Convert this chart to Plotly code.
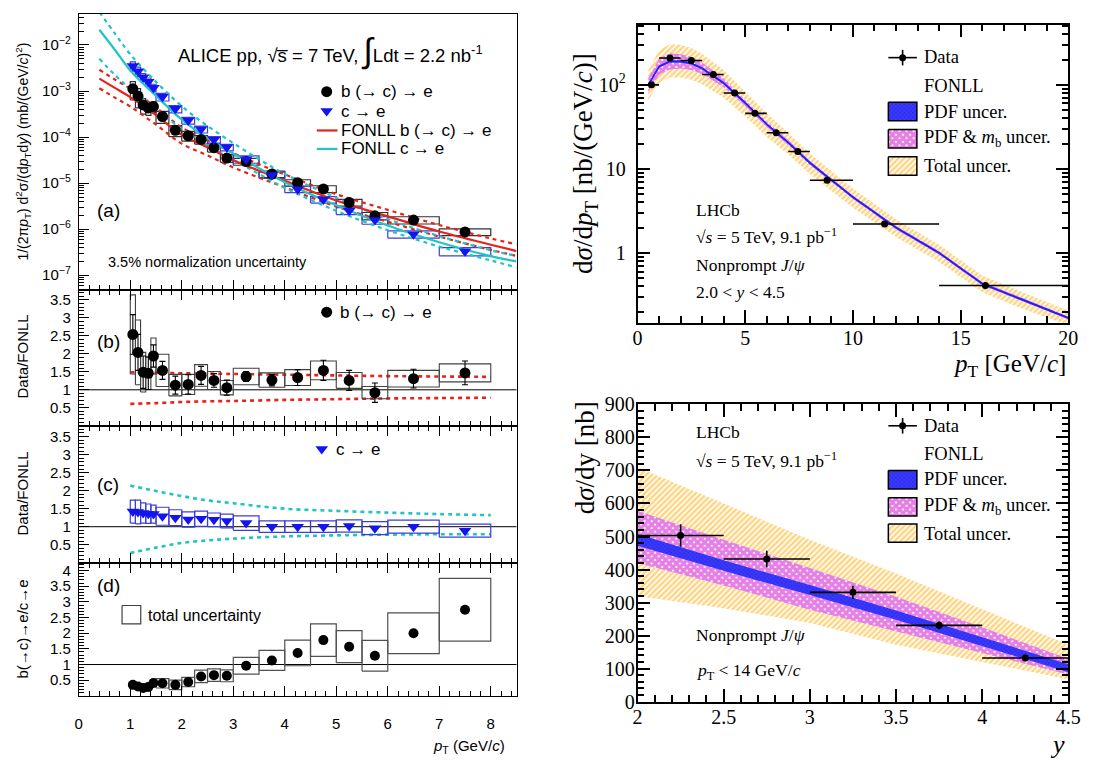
import plotly.graph_objects as go

W, H = 1103, 769
SANS = "Liberation Sans, Arial, sans-serif"
SERIF = "Liberation Serif, Times New Roman, serif"

# ---------------- ALICE pp, sqrt(s) = 7 TeV: heavy-flavour decay electrons ----------------
pt_lo = [1.0, 1.1, 1.2, 1.3, 1.4, 1.5, 1.75, 2.0, 2.25, 2.5, 2.75, 3.0, 3.5, 4.0, 4.5, 5.0, 5.5, 6.0, 7.0]
pt_hi = [1.1, 1.2, 1.3, 1.4, 1.5, 1.75, 2.0, 2.25, 2.5, 2.75, 3.0, 3.5, 4.0, 4.5, 5.0, 5.5, 6.0, 7.0, 8.0]
pt_mid = [1.05, 1.15, 1.25, 1.35, 1.45, 1.625, 1.875, 2.125, 2.375, 2.625, 2.875, 3.25, 3.75, 4.25,
          4.75, 5.25, 5.75, 6.5, 7.5]

# invariant cross sections, mb/(GeV/c)^2, with relative systematic uncertainty
be_xsec = [1.12e-3, 7.8e-4, 5.0e-4, 4.3e-4, 4.6e-4, 2.8e-4, 1.4e-4, 1.07e-4, 8.9e-5, 5.9e-5, 3.5e-5,
           2.95e-5, 1.57e-5, 1.02e-5, 7.5e-6, 3.8e-6, 1.95e-6, 1.58e-6, 8.7e-7]
be_sys_rel = [0.43, 0.45, 0.37, 0.31, 0.26, 0.29, 0.27, 0.24, 0.21, 0.20, 0.19, 0.17, 0.16, 0.16,
              0.17, 0.17, 0.18, 0.18, 0.17]
ce_xsec = [3.5e-3, 2.7e-3, 2.0e-3, 1.6e-3, 1.18e-3, 7.5e-4, 4.1e-4, 2.3e-4, 1.48e-4, 8.8e-5, 6.0e-5,
           3.3e-5, 1.5e-5, 7.4e-6, 4.4e-6, 2.5e-6, 1.58e-6, 7.8e-7, 3.3e-7]
ce_sys_rel = [0.23, 0.23, 0.20, 0.20, 0.19, 0.19, 0.18, 0.17, 0.17, 0.16, 0.16, 0.18, 0.16, 0.16,
              0.16, 0.17, 0.19, 0.18, 0.20]

# FONLL predictions (central, upper, lower)
fonll_pt = [0.4, 0.7, 1.0, 1.5, 2.0, 2.5, 3.0, 3.5, 4.0, 5.0, 6.0, 7.0, 8.0, 8.5]
fonll_b = [1.86e-3, 1.17e-3, 7.4e-4, 3.0e-4, 1.12e-4, 6.0e-5, 3.16e-5, 1.86e-5, 1.12e-5, 4.2e-6,
           1.9e-6, 8.9e-7, 4.6e-7, 3.35e-7]
fonll_b_up = [2.9e-3, 1.78e-3, 1.12e-3, 4.4e-4, 1.62e-4, 8.5e-5, 4.5e-5, 2.57e-5, 1.55e-5, 5.75e-6,
              2.63e-6, 1.23e-6, 6.3e-7, 4.7e-7]
fonll_b_lo = [1.15e-3, 7.2e-4, 4.6e-4, 1.86e-4, 7.2e-5, 4.0e-5, 2.19e-5, 1.32e-5, 8.1e-6, 3.1e-6,
              1.45e-6, 6.9e-7, 3.55e-7, 2.63e-7]
fonll_c = [2.14e-2, 7.9e-3, 2.8e-3, 7.9e-4, 2.4e-4, 9.5e-5, 4.4e-5, 2.1e-5, 1.05e-5, 3.3e-6,
           1.2e-6, 5.2e-7, 2.6e-7, 2.0e-7]
fonll_c_up = [5.2e-2, 1.78e-2, 6.3e-3, 1.58e-3, 4.7e-4, 1.74e-4, 7.4e-5, 3.3e-5, 1.58e-5, 4.8e-6,
              1.66e-6, 7.1e-7, 3.5e-7, 2.63e-7]
fonll_c_lo = [5.0e-3, 2.24e-3, 1.1e-3, 4.0e-4, 1.5e-4, 6.6e-5, 3.2e-5, 1.58e-5, 7.9e-6, 2.5e-6,
              9.5e-7, 4.2e-7, 2.1e-7, 1.48e-7]

# Data/FONLL for b(->c)->e : value, statistical, systematic half-height
be_ratio = [2.54, 2.04, 1.49, 1.46, 1.94, 1.54, 1.13, 1.15, 1.40, 1.26, 1.06, 1.37, 1.27, 1.34,
            1.54, 1.26, 0.92, 1.31, 1.47]
be_ratio_stat = [0.55, 0.50, 0.45, 0.45, 0.31, 0.25, 0.25, 0.27, 0.25, 0.19, 0.21, 0.14, 0.16, 0.22,
                 0.28, 0.28, 0.27, 0.26, 0.33]
be_ratio_sys = [1.10, 0.90, 0.55, 0.45, 0.50, 0.45, 0.30, 0.28, 0.30, 0.25, 0.20, 0.23, 0.20, 0.22,
                0.26, 0.22, 0.17, 0.23, 0.25]

# Data/FONLL for c->e
ce_ratio = [1.42, 1.41, 1.38, 1.36, 1.35, 1.29, 1.25, 1.20, 1.22, 1.19, 1.16, 1.10, 1.00, 1.00,
            1.00, 1.02, 0.96, 1.00, 0.89]
ce_ratio_sys = [0.32, 0.33, 0.28, 0.27, 0.25, 0.25, 0.22, 0.21, 0.21, 0.19, 0.19, 0.20, 0.16, 0.16,
                0.16, 0.17, 0.18, 0.18, 0.18]

# FONLL uncertainty relative to its central value
ratio_band_pt = [1.0, 1.5, 2.0, 2.5, 3.0, 4.0, 5.0, 6.0, 7.0, 8.0]
b_band_hi = [1.49, 1.47, 1.46, 1.45, 1.44, 1.42, 1.40, 1.38, 1.37, 1.36]
b_band_lo = [0.61, 0.63, 0.66, 0.68, 0.69, 0.72, 0.74, 0.76, 0.77, 0.78]
c_band_hi = [2.14, 1.99, 1.85, 1.73, 1.65, 1.50, 1.44, 1.39, 1.35, 1.32]
c_band_lo = [0.27, 0.42, 0.55, 0.62, 0.67, 0.73, 0.76, 0.78, 0.79, 0.79]

# b(->c)->e / c->e with total uncertainty
bc_ratio = [0.35, 0.30, 0.25, 0.28, 0.41, 0.40, 0.35, 0.44, 0.62, 0.66, 0.64, 0.96, 1.13, 1.37,
            1.78, 1.57, 1.28, 2.00, 2.75]
bc_ratio_unc = [0.08, 0.08, 0.07, 0.07, 0.10, 0.15, 0.15, 0.15, 0.20, 0.20, 0.19, 0.27, 0.32, 0.41,
                0.52, 0.51, 0.49, 0.65, 1.00]

# ---------------- LHCb nonprompt J/psi, sqrt(s) = 5 TeV ----------------
jpsi_pt_lo = [0.5, 1, 2, 3, 4, 5, 6, 7, 8, 10, 14]
jpsi_pt_hi = [1, 2, 3, 4, 5, 6, 7, 8, 10, 14, 20]
jpsi_pt = [0.65, 1.51, 2.50, 3.52, 4.51, 5.45, 6.44, 7.44, 8.8, 11.47, 16.15]
jpsi_dsdpt = [100, 209, 195, 133, 80, 45.8, 26.9, 16.1, 7.33, 2.21, 0.41]
jpsi_dsdpt_err = [8, 12, 10, 7, 4, 2.3, 1.4, 0.9, 0.4, 0.14, 0.04]

pred_pt = [0.5, 1, 1.5, 2, 2.5, 3, 4, 5, 6, 7, 8, 10, 12, 14, 16, 18, 20]
pred_pt_c = [100, 165, 190, 190, 180, 157, 105, 61, 34, 20.5, 11.8, 4.6, 2.0, 1.0, 0.43, 0.27, 0.168]
pred_pt_pdf_hi = [103, 170, 196, 196, 185, 162, 108, 63, 35, 21.1, 12.2, 4.74, 2.06, 1.03, 0.443, 0.278, 0.173]
pred_pt_pdf_lo = [97, 160, 184, 184, 175, 152, 102, 59, 33, 19.9, 11.4, 4.46, 1.94, 0.97, 0.417, 0.262, 0.163]
pred_pt_mb_hi = [120, 206, 237, 232, 216, 184, 119, 67, 36.7, 22, 12.5, 4.83, 2.1, 1.05, 0.45, 0.283, 0.175]
pred_pt_mb_lo = [82, 132, 152, 156, 150, 135, 93.5, 55.5, 31.6, 19.1, 11.1, 4.37, 1.9, 0.95, 0.41, 0.257, 0.161]
pred_pt_tot_hi = [147, 260, 305, 300, 275, 235, 150, 84, 46, 27, 15.2, 5.85, 2.52, 1.25, 0.54, 0.33, 0.205]
pred_pt_tot_lo = [66, 105, 122, 122, 115, 102, 70, 42, 24, 14.8, 8.7, 3.45, 1.55, 0.78, 0.34, 0.21, 0.138]

jpsi_y_lo = [2.0, 2.5, 3.0, 3.5, 4.0]
jpsi_y_hi = [2.5, 3.0, 3.5, 4.0, 4.5]
jpsi_y = [2.25, 2.75, 3.25, 3.75, 4.25]
jpsi_dsdy = [503, 432, 331, 231, 132]
jpsi_dsdy_err = [34, 25, 20, 12, 9]

pred_y = [2.0, 2.5, 3.0, 3.5, 4.0, 4.5]
pred_y_pdf_hi = [508, 428, 353, 276, 195, 113]
pred_y_pdf_lo = [472, 396, 323, 248, 169, 89]
pred_y_mb_hi = [578, 490, 405, 318, 225, 130]
pred_y_mb_lo = [420, 352, 278, 212, 148, 82]
pred_y_tot_hi = [710, 600, 490, 388, 280, 172]
pred_y_tot_lo = [320, 283, 238, 172, 120, 68]

# ---------------- styles ----------------
RED = "#e8211c"
CYAN = "#1fc4c4"
BLUE = "#1414f0"
BOXBLUE = "#3c3cdc"
ORANGE = "#ffa800"
MAGENTA = "#cc00cc"

PAT_TOT = dict(shape="/", fgcolor=ORANGE, size=4, solidity=0.6)
PAT_MB = dict(shape="x", fgcolor=MAGENTA, bgcolor="white", size=5, solidity=0.85)
PAT_PDF = dict(shape="x", fgcolor="#0c0cb4", bgcolor="#3a3aff", size=3, solidity=0.3)


def boxes(x0s, x1s, y0s, y1s):
    xs, ys = [], []
    for a, b, c, d in zip(x0s, x1s, y0s, y1s):
        xs += [a, b, b, a, a, None]
        ys += [c, c, d, d, c, None]
    return xs, ys


def band_xy(x, lo, hi):
    return list(x) + list(x)[::-1], list(hi) + list(lo)[::-1]


fig = go.Figure()


def add(tr, ax):
    tr.update(xaxis="x" + ("" if ax == 1 else str(ax)), yaxis="y" + ("" if ax == 1 else str(ax)),
              showlegend=False, hoverinfo="skip")
    fig.add_trace(tr)


# ---- panel (a): cross sections ----
bx, by = boxes(pt_lo, pt_hi, [v * (1 - s) for v, s in zip(be_xsec, be_sys_rel)],
               [v * (1 + s) for v, s in zip(be_xsec, be_sys_rel)])
add(go.Scatter(x=bx, y=by, mode="lines", line=dict(color="#303030", width=1.2)), 1)
cx, cy = boxes(pt_lo, pt_hi, [v * (1 - s) for v, s in zip(ce_xsec, ce_sys_rel)],
               [v * (1 + s) for v, s in zip(ce_xsec, ce_sys_rel)])
add(go.Scatter(x=cx, y=cy, mode="lines", line=dict(color=BOXBLUE, width=1.2)), 1)

for yy, dash, col in [(fonll_b_up, "4px,4px", RED), (fonll_b_lo, "4px,4px", RED),
                      (fonll_c_up, "4px,4px", CYAN), (fonll_c_lo, "4px,4px", CYAN),
                      (fonll_b, "solid", RED), (fonll_c, "solid", CYAN)]:
    add(go.Scatter(x=fonll_pt, y=yy, mode="lines", line=dict(color=col, width=2.2, dash=dash, shape="spline")), 1)

add(go.Scatter(x=pt_mid, y=be_xsec, mode="markers", marker=dict(symbol="circle", size=11, color="black")), 1)
add(go.Scatter(x=pt_mid, y=ce_xsec, mode="markers",
               marker=dict(symbol="triangle-down", size=11, color=BLUE)), 1)

# ---- panel (b): b(->c)->e / FONLL ----
for yy in (b_band_hi, b_band_lo):
    add(go.Scatter(x=ratio_band_pt, y=yy, mode="lines",
                   line=dict(color=RED, width=2.6, dash="4px,4px", shape="spline")), 2)
bx, by = boxes(pt_lo, pt_hi, [r - s for r, s in zip(be_ratio, be_ratio_sys)],
               [r + s for r, s in zip(be_ratio, be_ratio_sys)])
add(go.Scatter(x=bx, y=by, mode="lines", line=dict(color="#404040", width=1.1)), 2)
add(go.Scatter(x=pt_mid, y=be_ratio, mode="markers",
               error_y=dict(type="data", array=be_ratio_stat, color="black", thickness=1.1, width=3),
               marker=dict(symbol="circle", size=11, color="black")), 2)

# ---- panel (c): c->e / FONLL ----
for yy in (c_band_hi, c_band_lo):
    add(go.Scatter(x=ratio_band_pt, y=yy, mode="lines",
                   line=dict(color=CYAN, width=2.6, dash="4px,4px", shape="spline")), 3)
bx, by = boxes(pt_lo, pt_hi, [r - s for r, s in zip(ce_ratio, ce_ratio_sys)],
               [r + s for r, s in zip(ce_ratio, ce_ratio_sys)])
add(go.Scatter(x=bx, y=by, mode="lines", line=dict(color=BOXBLUE, width=1.2)), 3)
add(go.Scatter(x=pt_mid, y=ce_ratio, mode="markers",
               marker=dict(symbol="triangle-down", size=11, color=BLUE)), 3)

# ---- panel (d): b/c ratio ----
bx, by = boxes(pt_lo, pt_hi, [r - u for r, u in zip(bc_ratio, bc_ratio_unc)],
               [r + u for r, u in zip(bc_ratio, bc_ratio_unc)])
add(go.Scatter(x=bx, y=by, mode="lines", line=dict(color="#505050", width=1.2)), 4)
add(go.Scatter(x=pt_mid, y=bc_ratio, mode="markers", marker=dict(symbol="circle", size=10, color="black")), 4)

# ---- LHCb d sigma / d pT ----
for lo, hi, pat in [(pred_pt_tot_lo, pred_pt_tot_hi, PAT_TOT), (pred_pt_mb_lo, pred_pt_mb_hi, PAT_MB),
                    (pred_pt_pdf_lo, pred_pt_pdf_hi, PAT_PDF)]:
    xx, yy = band_xy(pred_pt, lo, hi)
    add(go.Scatter(x=xx, y=yy, mode="lines", fill="toself", fillcolor="rgba(0,0,0,0)",
                   fillpattern=pat, line=dict(width=0)), 5)
add(go.Scatter(x=pred_pt, y=pred_pt_c, mode="lines", line=dict(color="#2020ff", width=1.5)), 5)
add(go.Scatter(x=jpsi_pt, y=jpsi_dsdpt, mode="markers",
               error_x=dict(type="data", symmetric=False,
                            array=[h - x for h, x in zip(jpsi_pt_hi, jpsi_pt)],
                            arrayminus=[x - l for x, l in zip(jpsi_pt, jpsi_pt_lo)],
                            color="black", thickness=1.6, width=0),
               error_y=dict(type="data", array=jpsi_dsdpt_err, color="black", thickness=1.6, width=0),
               marker=dict(symbol="circle", size=7, color="black")), 5)

# ---- LHCb d sigma / dy ----
for lo, hi, pat in [(pred_y_tot_lo, pred_y_tot_hi, PAT_TOT), (pred_y_mb_lo, pred_y_mb_hi, PAT_MB),
                    (pred_y_pdf_lo, pred_y_pdf_hi, PAT_PDF)]:
    xx, yy = band_xy(pred_y, lo, hi)
    add(go.Scatter(x=xx, y=yy, mode="lines", fill="toself", fillcolor="rgba(0,0,0,0)",
                   fillpattern=pat, line=dict(width=0)), 6)
add(go.Scatter(x=jpsi_y, y=jpsi_dsdy, mode="markers",
               error_x=dict(type="data", symmetric=False,
                            array=[h - x for h, x in zip(jpsi_y_hi, jpsi_y)],
                            arrayminus=[x - l for x, l in zip(jpsi_y, jpsi_y_lo)],
                            color="black", thickness=1.6, width=0),
               error_y=dict(type="data", array=jpsi_dsdy_err, color="black", thickness=1.6, width=0),
               marker=dict(symbol="circle", size=7, color="black")), 6)

# ---------------- legend glyphs (drawn on a pixel-space overlay) ----------------
def glyph(tr):
    add(tr, 7)


glyph(go.Scatter(x=[327], y=[83], mode="markers", marker=dict(symbol="circle", size=11, color="black")))
glyph(go.Scatter(x=[327], y=[103], mode="markers", marker=dict(symbol="triangle-down", size=11, color=BLUE)))
glyph(go.Scatter(x=[317, 338], y=[123, 123], mode="lines", line=dict(color=RED, width=2.2)))
glyph(go.Scatter(x=[317, 338], y=[142, 142], mode="lines", line=dict(color=CYAN, width=2.2)))
glyph(go.Scatter(x=[327], y=[310], mode="markers", marker=dict(symbol="circle", size=11, color="black")))
glyph(go.Scatter(x=[322], y=[451], mode="markers", marker=dict(symbol="triangle-down", size=11, color=BLUE)))
gx, gy = boxes([119], [138], [612], [631])
glyph(go.Scatter(x=gx, y=gy, mode="lines", line=dict(color="#404040", width=1.2)))

for top in (48, 427):
    glyph(go.Scatter(x=[898, 927, None, 912.5, 912.5], y=[top, top, None, top - 8, top + 8], mode="lines",
                     line=dict(color="black", width=1.6)))
    glyph(go.Scatter(x=[912.5], y=[top], mode="markers", marker=dict(size=7, color="black")))
for rows in ((94, 122, 150), (473, 501, 528)):
    for y0, pat in zip(rows, (PAT_PDF, PAT_MB, PAT_TOT)):
        gx, gy = boxes([898], [927], [y0], [y0 + 19])
        glyph(go.Scatter(x=gx[:5], y=gy[:5], mode="lines", fill="toself", fillcolor="rgba(0,0,0,0)",
                         fillpattern=pat, line=dict(color="black", width=1.5)))

# ---------------- axes ----------------
def px(v):
    return v / W


def py(v):
    return 1 - v / H


LX = [px(75), px(520)]
RX = [px(643), px(1081)]

base = dict(showgrid=False, zeroline=False, showline=True, linecolor="black", ticks="inside",
            tickcolor="black")
left_x = dict(base, range=[0, 8.5], tickmode="linear", tick0=0, dtick=1, ticklen=10, linewidth=1,
              minor=dict(ticks="inside", ticklen=5, tickmode="linear", tick0=0, dtick=0.2, tickcolor="black"),
              tickfont=dict(family=SANS, size=15, color="black"), domain=LX)
ratio_vals = [0.5, 1, 1.5, 2, 2.5, 3, 3.5, 4]
left_ratio_y = dict(base, tickmode="array", tickvals=ratio_vals, ticktext=[f"{v:g}" for v in ratio_vals],
                    ticklen=10, linewidth=1, mirror=True,
                    minor=dict(ticks="inside", ticklen=5, tickmode="linear", tick0=0, dtick=0.1,
                               tickcolor="black"),
                    tickfont=dict(family=SANS, size=15, color="black"), ticklabelstandoff=4)

decades = [1e-7, 1e-6, 1e-5, 1e-4, 1e-3, 1e-2]
minor_a = [k * d for d in [1e-8] + decades for k in range(2, 10)]
right_font = dict(family=SERIF, size=20, color="black")
layout = dict(
    width=W, height=H, margin=dict(l=0, r=0, t=0, b=0), paper_bgcolor="white",
    plot_bgcolor="rgba(0,0,0,0)", showlegend=False,
    xaxis=dict(left_x, anchor="y", showticklabels=False, mirror=True),
    yaxis=dict(base, type="log", range=[-7.316, -1.325], domain=[py(287), py(3)], anchor="x",
               tickmode="array", tickvals=decades,
               ticktext=[f"10<sup>{e}</sup>" for e in ["−7", "−6", "−5", "−4", "−3", "−2"]],
               ticklen=10, linewidth=1, mirror=True,
               minor=dict(ticks="inside", ticklen=5, tickvals=minor_a, tickcolor="black"),
               tickfont=dict(family=SANS, size=15, color="black"), ticklabelstandoff=4),
    xaxis2=dict(left_x, anchor="y2", showticklabels=False, mirror="allticks"),
    yaxis2=dict(left_ratio_y, range=[0, 3.78], domain=[py(427), py(287)], anchor="x2"),
    xaxis3=dict(left_x, anchor="y3", showticklabels=False, mirror="allticks"),
    yaxis3=dict(left_ratio_y, range=[0, 3.8], domain=[py(568), py(427)], anchor="x3"),
    xaxis4=dict(left_x, anchor="y4", showticklabels=True, mirror="allticks", ticklabelstandoff=14),
    yaxis4=dict(left_ratio_y, range=[0, 4.25], domain=[py(705), py(568)], anchor="x4"),
    xaxis5=dict(base, domain=RX, anchor="y5", range=[0, 20], tickmode="array", tickvals=[0, 5, 10, 15, 20],
                ticklen=13, linewidth=1.5, tickwidth=1.5, mirror="allticks",
                minor=dict(ticks="inside", ticklen=7, tickmode="linear", tick0=0, dtick=1, tickcolor="black"),
                tickfont=right_font, ticklabelstandoff=-4),
    yaxis5=dict(base, type="log", range=[-0.832, 2.717], domain=[py(321), py(14)], anchor="x5",
                tickmode="array", tickvals=[1, 10, 100], ticktext=["1", "10", "10<sup>2</sup>"],
                ticklen=13, linewidth=1.5, tickwidth=1.5, mirror="allticks",
                minor=dict(ticks="inside", ticklen=7, tickcolor="black",
                           tickvals=[k * d for d in (0.1, 1, 10, 100) for k in range(2, 10)]),
                tickfont=right_font, ticklabelstandoff=6),
    xaxis6=dict(base, domain=RX, anchor="y6", range=[2, 4.5], tickmode="array",
                tickvals=[2, 2.5, 3, 3.5, 4, 4.5], ticktext=["2", "2.5", "3", "3.5", "4", "4.5"],
                ticklen=13, linewidth=1.5, tickwidth=1.5, mirror="allticks",
                minor=dict(ticks="inside", ticklen=7, tickmode="linear", tick0=0, dtick=0.1, tickcolor="black"),
                tickfont=right_font, ticklabelstandoff=-3),
    yaxis6=dict(base, range=[0, 900], domain=[py(711), py(405)], anchor="x6", tickmode="linear", tick0=0,
                dtick=100, ticklen=13, linewidth=1.5, tickwidth=1.5, mirror="allticks",
                minor=dict(ticks="inside", ticklen=7, tickmode="linear", tick0=0, dtick=20, tickcolor="black"),
                tickfont=right_font, ticklabelstandoff=-3),
    xaxis7=dict(domain=[0, 1], range=[0, W], visible=False, anchor="y7", fixedrange=True),
    yaxis7=dict(domain=[0, 1], range=[H, 0], visible=False, anchor="x7", fixedrange=True),
)

shapes = []
for k in (2, 3, 4):
    shapes.append(dict(type="line", xref=f"x{k} domain", yref=f"y{k}", x0=0, x1=1, y0=1, y1=1,
                       line=dict(color="black", width=1), layer="below"))
layout["shapes"] = shapes

# ---------------- text ----------------
ann = []


def label(text, x, y, size, family=SANS, xanchor="left", yanchor="middle", angle=0):
    ann.append(dict(text=text, x=px(x), y=py(y), xref="paper", yref="paper", xanchor=xanchor,
                    yanchor=yanchor, showarrow=False, textangle=angle,
                    font=dict(size=size, family=family, color="black")))


label("ALICE pp, √s\u0305 = 7 TeV, <span style='font-size:34px'>∫</span>Ldt = 2.2 nb<sup>-1</sup>",
      174, 41, 18.5)
label("b (→ c) → e", 340, 83, 17)
label("c → e", 340, 103, 17)
label("FONLL b (→ c) → e", 340, 123, 17)
label("FONLL c → e", 340, 142, 17)
label("(a)", 91, 205, 19)
label("3.5% normalization uncertainty", 103, 258, 14.5)
label("(b)", 91, 340, 19)
label("b (→ c) → e", 339, 310, 17)
label("(c)", 91, 487, 19)
label("c → e", 334, 451, 17)
label("(d)", 92, 591, 19)
label("total uncertainty", 143, 622, 16)

label("1/(2π<i>p</i><sub>T</sub>) d<sup>2</sup>σ/(d<i>p</i><sub>T</sub>d<i>y</i>) (mb/(GeV/<i>c</i>)<sup>2</sup>)",
      18, 145, 14, xanchor="center", angle=-90)
label("Data/FONLL", 18, 356, 15, xanchor="center", angle=-90)
label("Data/FONLL", 18, 497, 15, xanchor="center", angle=-90)
label("b(→c)→e/c→e", 18, 636, 15, xanchor="center", angle=-90)
label("<i>p</i><sub>T</sub> (GeV/<i>c</i>)", 510, 757, 15, xanchor="right")

label("d<i>σ</i>/d<i>p</i><sub>T</sub> [nb/(GeV/<i>c</i>)]", 589, 157, 27, SERIF, xanchor="center", angle=-90)
label("<i>p</i><sub>T</sub> [GeV/<i>c</i>]", 1081, 365, 25, SERIF, xanchor="right")
label("d<i>σ</i>/dy [nb]", 589, 460, 27, SERIF, xanchor="center", angle=-90)
label("<i>y</i>", 1080, 755, 26, SERIF, xanchor="right")

for t, yv in zip(["LHCb", "√<i>s</i> = 5 TeV, 9.1 pb<sup>−1</sup>", "Nonprompt <i>J</i>/<i>ψ</i>",
                  "2.0 &lt; <i>y</i> &lt; 4.5"], (205, 232, 261, 289)):
    label(t, 700, yv, 17.5, SERIF)
label("LHCb", 700, 433, 17.5, SERIF)
label("√<i>s</i> = 5 TeV, 9.1 pb<sup>−1</sup>", 700, 462, 17.5, SERIF)
label("Nonprompt <i>J</i>/<i>ψ</i>", 700, 642, 17.5, SERIF)
label("<i>p</i><sub>T</sub> &lt; 14 GeV/<i>c</i>", 700, 680, 17.5, SERIF)

for rows in ((47, 77, 104, 131, 160), (427, 456, 482, 510, 538)):
    for t, yv in zip(["Data", "FONLL", "PDF uncer.", "PDF &amp; <i>m</i><sub>b</sub> uncer.", "Total uncer."],
                     rows):
        label(t, 932, yv, 18.5, SERIF)

layout["annotations"] = ann
fig.update_layout(**layout)
fig.write_html("out.html")
